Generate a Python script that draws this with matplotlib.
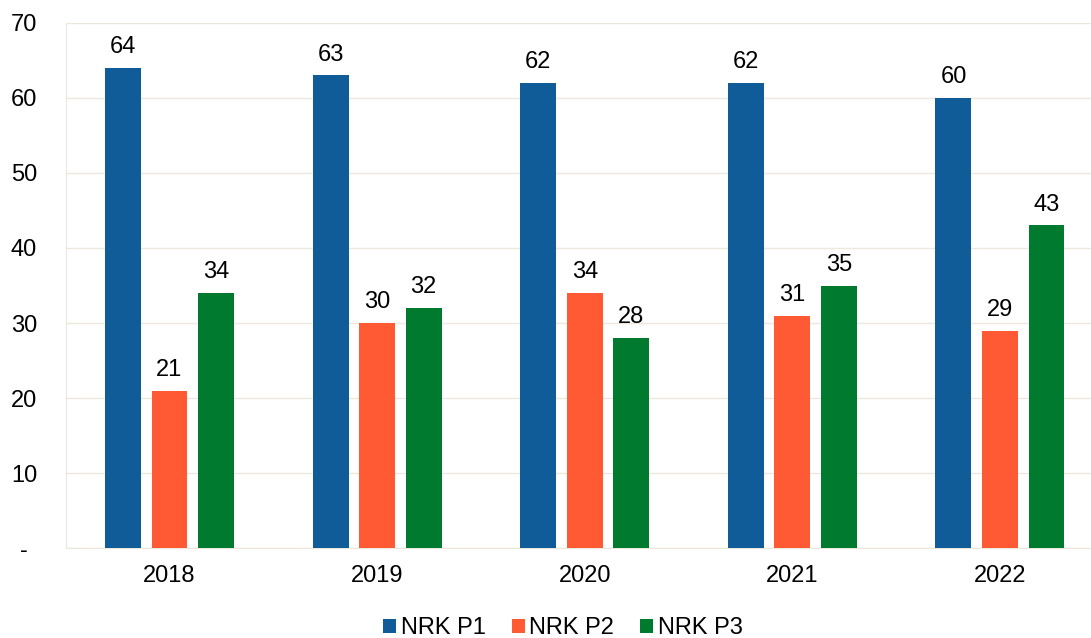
import matplotlib.pyplot as plt
import numpy as np

plt.rcParams['font.family'] = ['Liberation Sans', 'DejaVu Sans']

years = ['2018', '2019', '2020', '2021', '2022']
p1 = [64, 63, 62, 62, 60]
p2 = [21, 30, 34, 31, 29]
p3 = [34, 32, 28, 35, 43]

names = ['NRK P1', 'NRK P2', 'NRK P3']
colors = ['#0F5C99', '#FF5A33', '#007A2E']

fig = plt.figure(figsize=(10.91, 6.38), dpi=100)
# axes runs a little past the right edge, like the original
ax = fig.add_axes([0.0602, 0.141, 0.9515, 0.823])

x = np.arange(len(years))
w = 0.173
step = 0.224
for k, (vals, name, col) in enumerate(zip([p1, p2, p3], names, colors)):
    pos = x + (k - 1) * step
    bars = ax.bar(pos, vals, w, color=col, label=name, zorder=3)
    for b, v in zip(bars, vals):
        ax.annotate(str(v), (b.get_x() + b.get_width() / 2, v),
                    xytext=(0, 7), textcoords='offset points',
                    ha='center', va='bottom', fontsize=17)

ax.set_xlim(-0.5, 4.5)
ax.set_ylim(0, 70)
ax.set_yticks(range(0, 71, 10))
ax.set_yticklabels(['-'] + [str(v) for v in range(10, 71, 10)])
ax.set_xticks(x)
ax.set_xticklabels(years)
ax.tick_params(axis='both', length=0, labelsize=17)
ax.tick_params(axis='x', pad=12)
ax.tick_params(axis='y', pad=30)
for lab in ax.get_yticklabels():
    lab.set_horizontalalignment('center')

ax.grid(axis='y', color='#EDE7DC', linewidth=1, zorder=0)
for s in ['top', 'right']:
    ax.spines[s].set_visible(False)
ax.spines['left'].set_color('#EDE7DC')
ax.spines['bottom'].set_color('#EDE7DC')

ax.legend(loc='upper center', bbox_to_anchor=(0.479, -0.091), ncol=3,
          frameon=False, fontsize=17, handlelength=0.55, handleheight=0.55,
          handletextpad=0.2, columnspacing=1.1)

fig.savefig('out.png', dpi=100)
